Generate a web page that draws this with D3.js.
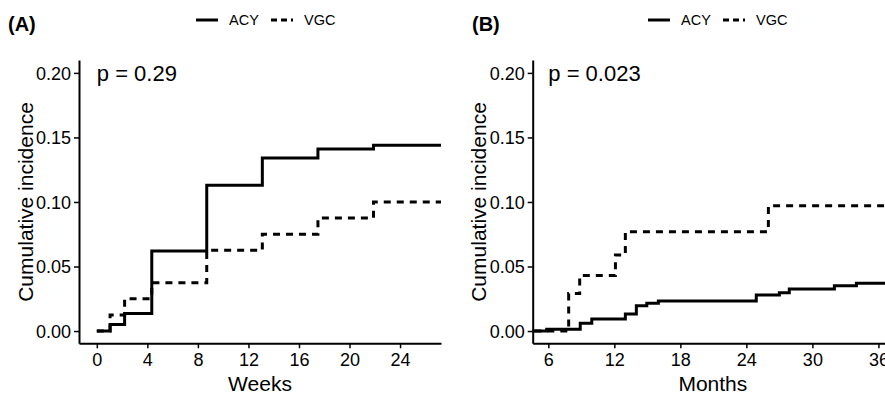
<!DOCTYPE html>
<html>
<head>
<meta charset="utf-8">
<script src="https://cdn.jsdelivr.net/npm/d3@7"></script>
<style>
  body { margin: 0; background: #fff; }
  text { font-family: "Liberation Sans", Arial, Helvetica, sans-serif; fill: #000; }
</style>
</head>
<body>
<script>
var w = 885;
var h = 395;

// panel A: weeks
var weekTimes = [0, 1.05, 2.2, 4.35, 8.7, 13.1, 17.5, 21.9, 28];
var acyWeeks  = [0, 0.005, 0.0135, 0.062, 0.113, 0.134, 0.141, 0.144, 0.144];
var vgcWeeks  = [0, 0.0125, 0.025, 0.0375, 0.0625, 0.075, 0.0875, 0.1, 0.1];
var weekTicks = [0, 4, 8, 12, 16, 20, 24];

// panel B: months
var acyMonthTimes = [0, 5.85, 8.9, 9.95, 13, 14, 14.95, 16, 24.9, 27, 27.9, 32, 34, 37];
var acyMonths     = [0, 0.0013, 0.006, 0.0093, 0.0132, 0.0196, 0.0215, 0.0233, 0.0279, 0.0297, 0.0326, 0.0351, 0.037, 0.037];
var vgcMonthTimes = [0, 7.85, 8.85, 12.1, 13, 26, 37];
var vgcMonths     = [0, 0.029, 0.043, 0.059, 0.077, 0.097, 0.097];
var monthTicks = [6, 12, 18, 24, 30, 36];

var yTicks = [0, 0.05, 0.10, 0.15, 0.20];
var groups = ["ACY", "VGC"];

var svg = d3.select("body")
            .append("svg")
                .attr("width", w)
                .attr("height", h);

function zip(ts, vs) {
    return ts.map(function(t, i) { return [t, vs[i]]; });
}

function drawPanel(p) {
    var g = svg.append("g");

    var x = d3.scaleLinear().domain(p.xDomain).range([p.left, p.right]);
    var y = d3.scaleLinear().domain([-0.0095, 0.21]).range([343.3, 60]);

    // clip to plot area
    g.append("clipPath").attr("id", "clip" + p.tag)
        .append("rect")
        .attr("x", p.left).attr("y", 60)
        .attr("width", p.right - p.left).attr("height", 283.3);

    var line = d3.line()
        .x(function(d) { return x(d[0]); })
        .y(function(d) { return y(d[1]); })
        .curve(d3.curveStepAfter);

    var lines = g.append("g").attr("clip-path", "url(#clip" + p.tag + ")");
    lines.append("path")
        .datum(p.vgc)
        .attr("d", line)
        .attr("fill", "none")
        .attr("stroke", "#000")
        .attr("stroke-width", 3)
        .attr("stroke-dasharray", "7,6");
    lines.append("path")
        .datum(p.acy)
        .attr("d", line)
        .attr("fill", "none")
        .attr("stroke", "#000")
        .attr("stroke-width", 3);

    // axes
    var yAxis = g.append("g")
        .attr("transform", "translate(" + p.left + ",0)")
        .call(d3.axisLeft(y).tickValues(yTicks).tickFormat(d3.format(".2f")).tickSize(5).tickSizeOuter(0));
    var xAxis = g.append("g")
        .attr("transform", "translate(0,343.3)")
        .call(d3.axisBottom(x).tickValues(p.xTicks).tickSize(5).tickSizeOuter(0));

    [xAxis, yAxis].forEach(function(a) {
        a.select(".domain").attr("stroke", "#000").attr("stroke-width", 2);
        a.selectAll(".tick line").attr("stroke", "#000").attr("stroke-width", 1.5);
        a.selectAll(".tick text")
            .attr("font-size", 18)
            .attr("font-family", "'Liberation Sans', Arial, sans-serif")
            .attr("fill", "#000");
    });
    yAxis.selectAll(".tick text").attr("x", -8).attr("dy", "0.35em");
    xAxis.selectAll(".tick text").attr("y", 10).attr("dy", "0.71em");

    // axis titles
    g.append("text")
        .text(p.xTitle)
        .attr("x", (p.left + p.right) / 2 + p.xTitleShift)
        .attr("y", 391)
        .attr("text-anchor", "middle")
        .attr("font-size", 21);
    g.append("text")
        .text("Cumulative incidence")
        .attr("transform", "translate(" + (p.left - 54) + ",202) rotate(-90)")
        .attr("text-anchor", "middle")
        .attr("dominant-baseline", "central")
        .attr("font-size", 21);

    // p value
    g.append("text")
        .text(p.pval)
        .attr("x", x(p.pX))
        .attr("y", y(0.2))
        .attr("dy", "0.36em")
        .attr("font-size", 22);

    // panel tag
    g.append("text")
        .text(p.label)
        .attr("x", p.labelX)
        .attr("y", 31)
        .attr("font-size", 20)
        .attr("font-weight", "bold");

    // legend
    var lg = g.append("g").attr("transform", "translate(" + p.legendX + ",20)");
    var offsets = [0, 75];
    groups.forEach(function(name, i) {
        lg.append("line")
            .attr("x1", offsets[i]).attr("x2", offsets[i] + 22)
            .attr("y1", 0).attr("y2", 0)
            .attr("stroke", "#000")
            .attr("stroke-width", 3)
            .attr("stroke-dasharray", name == "VGC" ? "6,4" : null);
        lg.append("text")
            .text(name)
            .attr("x", offsets[i] + 33)
            .attr("y", 0)
            .attr("dy", "0.36em")
            .attr("font-size", 14.5);
    });
}

drawPanel({
    tag: "A", label: "(A)", labelX: 8,
    left: 79, right: 441, xDomain: [-1.41, 27.24], xTicks: weekTicks,
    xTitle: "Weeks", xTitleShift: 0,
    acy: zip(weekTimes, acyWeeks), vgc: zip(weekTimes, vgcWeeks),
    pval: "p = 0.29", pX: 0, legendX: 196
});

drawPanel({
    tag: "B", label: "(B)", labelX: 472,
    left: 532.7, right: 885, xDomain: [4.58, 36.6], xTicks: monthTicks,
    xTitle: "Months", xTitleShift: 4,
    acy: zip(acyMonthTimes, acyMonths), vgc: zip(vgcMonthTimes, vgcMonths),
    pval: "p = 0.023", pX: 6, legendX: 648
});
</script>
</body>
</html>
